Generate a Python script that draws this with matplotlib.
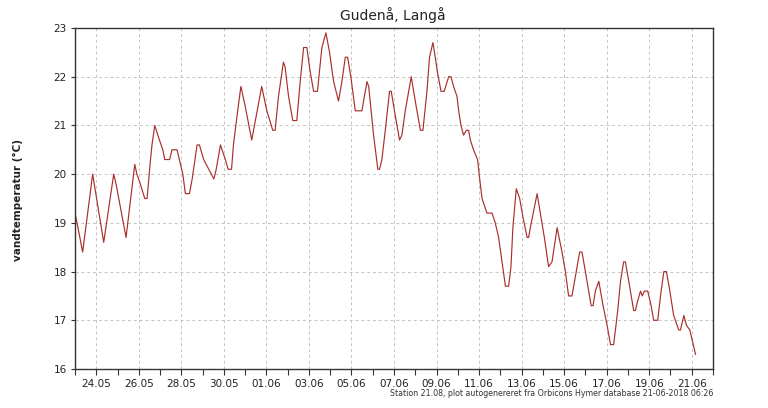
import matplotlib
matplotlib.use("Agg")
import matplotlib.pyplot as plt
import matplotlib.dates as mdates
import numpy as np
import pandas as pd

# time in days since 2018-05-23 00:00, water temperature in °C
days = [0.00, 0.14, 0.36, 0.83, 1.35, 1.82, 1.93, 2.40, 2.81, 2.91, 3.07, 3.28, 3.39,
        3.55, 3.62, 3.75, 3.97, 4.13, 4.22, 4.45, 4.56, 4.80, 4.91, 5.07, 5.19, 5.38,
        5.51, 5.74, 5.85, 6.05, 6.29, 6.53, 6.64, 6.84, 7.07, 7.20, 7.36, 7.45, 7.62,
        7.80, 8.00, 8.31, 8.78, 9.02, 9.30, 9.41, 9.57, 9.80, 9.88, 10.04, 10.24, 10.43,
        10.59, 10.75, 10.90, 11.06, 11.22, 11.40, 11.61, 11.80, 11.97, 12.16, 12.39,
        12.55, 12.71, 12.82, 12.97, 13.18, 13.49, 13.73, 13.81, 14.04, 14.24, 14.32,
        14.43, 14.59, 14.79, 14.87, 15.06, 15.26, 15.37, 15.53, 15.81, 16.00, 16.24,
        16.36, 16.55, 16.67, 16.83, 16.94, 17.04, 17.21, 17.36, 17.57, 17.68, 17.80,
        17.96, 18.04, 18.15, 18.27, 18.40, 18.51, 18.59, 18.74, 18.93, 19.03, 19.14,
        19.29, 19.37, 19.61, 19.76, 19.92, 20.08, 20.24, 20.39, 20.50, 20.59, 20.75,
        20.91, 21.07, 21.26, 21.33, 21.41, 21.73, 21.88, 22.07, 22.27, 22.43, 22.67,
        22.90, 23.06, 23.21, 23.37, 23.53, 23.73, 23.84, 24.00, 24.27, 24.36, 24.47,
        24.63, 24.83, 25.02, 25.18, 25.33, 25.52, 25.65, 25.80, 25.88, 26.04, 26.27,
        26.35, 26.46, 26.59, 26.67, 26.78, 26.93, 27.09, 27.21, 27.40, 27.56, 27.69,
        27.81, 27.97, 28.15, 28.39, 28.47, 28.63, 28.75, 28.91, 29.18]
temps = [19.2, 18.9, 18.4, 20.0, 18.6, 20.0, 19.8, 18.7, 20.2, 20.0, 19.8, 19.5, 19.5,
         20.3, 20.6, 21.0, 20.7, 20.5, 20.3, 20.3, 20.5, 20.5, 20.3, 20.0, 19.6, 19.6,
         19.9, 20.6, 20.6, 20.3, 20.1, 19.9, 20.1, 20.6, 20.3, 20.1, 20.1, 20.6, 21.2,
         21.8, 21.4, 20.7, 21.8, 21.3, 20.9, 20.9, 21.6, 22.3, 22.2, 21.6, 21.1, 21.1,
         21.9, 22.6, 22.6, 22.1, 21.7, 21.7, 22.6, 22.9, 22.5, 21.9, 21.5,
         21.9, 22.4, 22.4, 22.0, 21.3, 21.3, 21.9, 21.8, 20.8, 20.1, 20.1,
         20.3, 20.9, 21.7, 21.7, 21.2, 20.7, 20.8, 21.3, 22.0, 21.5, 20.9,
         20.9, 21.7, 22.4, 22.7, 22.4, 22.1, 21.7, 21.7, 22.0, 22.0, 21.8,
         21.6, 21.3, 21.0, 20.8, 20.9, 20.9, 20.7, 20.5, 20.3, 19.9, 19.5,
         19.3, 19.2, 19.2, 19.0, 18.7, 18.2, 17.7, 17.7, 18.1, 18.9, 19.7,
         19.5, 19.1, 18.7, 18.7, 18.9, 19.6, 19.2, 18.7, 18.1, 18.2, 18.9,
         18.4, 18.0, 17.5, 17.5, 17.9, 18.4, 18.4, 18.0, 17.3, 17.3, 17.6,
         17.8, 17.3, 16.9, 16.5, 16.5, 17.2, 17.8, 18.2, 18.2, 17.8, 17.2,
         17.2, 17.4, 17.6, 17.5, 17.6, 17.6, 17.3, 17.0, 17.0, 17.6, 18.0,
         18.0, 17.6, 17.1, 16.8, 16.8, 17.1, 16.9, 16.8, 16.3]

start = pd.Timestamp("2018-05-23")
times = [start + pd.Timedelta(days=d) for d in days]

title = "Gudenå, Langå"
ylabel = "vandtemperatur (°C)"
footer = "Station 21.08, plot autogenereret fra Orbicons Hymer database 21-06-2018 06:26"

fig = plt.figure(figsize=(7.68, 4.08), dpi=100)
ax = fig.add_axes([75/768, 1-369/408, (713-75)/768, (369-28)/408])

ax.plot(times, temps, color="#a8302c", lw=0.85)

ax.set_xlim(pd.Timestamp("2018-05-23"), pd.Timestamp("2018-06-22"))
ax.set_ylim(16, 23)
ax.set_yticks(np.arange(16, 24, 1))

ax.xaxis.set_major_locator(mdates.DayLocator(
    bymonthday=[24, 26, 28, 30, 1, 3, 5, 7, 9, 11, 13, 15, 17, 19, 21]))
ax.xaxis.set_minor_locator(mdates.DayLocator())
ax.xaxis.set_major_formatter(mdates.DateFormatter("%d.%m"))

ax.grid(True, which="major", color="#c4c4c4", ls=(0, (3, 3)), lw=0.7)
ax.tick_params(axis="x", which="both", direction="out", length=4, width=0.8,
               labelsize=7.5, pad=3, colors="#333333", labelcolor="#222222")
ax.tick_params(axis="y", direction="out", length=3, width=0.8,
               labelsize=7.5, pad=3, colors="#333333", labelcolor="#222222")
for s in ax.spines.values():
    s.set_color("#333333")
    s.set_linewidth(1.0)

fig.text(393/768, 1-15/408, title, ha="center", va="center", fontsize=10,
         color="#222222")
fig.text(18/768, 1-200/408, ylabel, ha="center", va="center", rotation=90,
         fontsize=7.5, fontweight="bold", color="#222222")
fig.text(713/768, 1-393/408, footer, ha="right", va="center", fontsize=5.65,
         color="#333333")

fig.savefig("out.png", dpi=100)
